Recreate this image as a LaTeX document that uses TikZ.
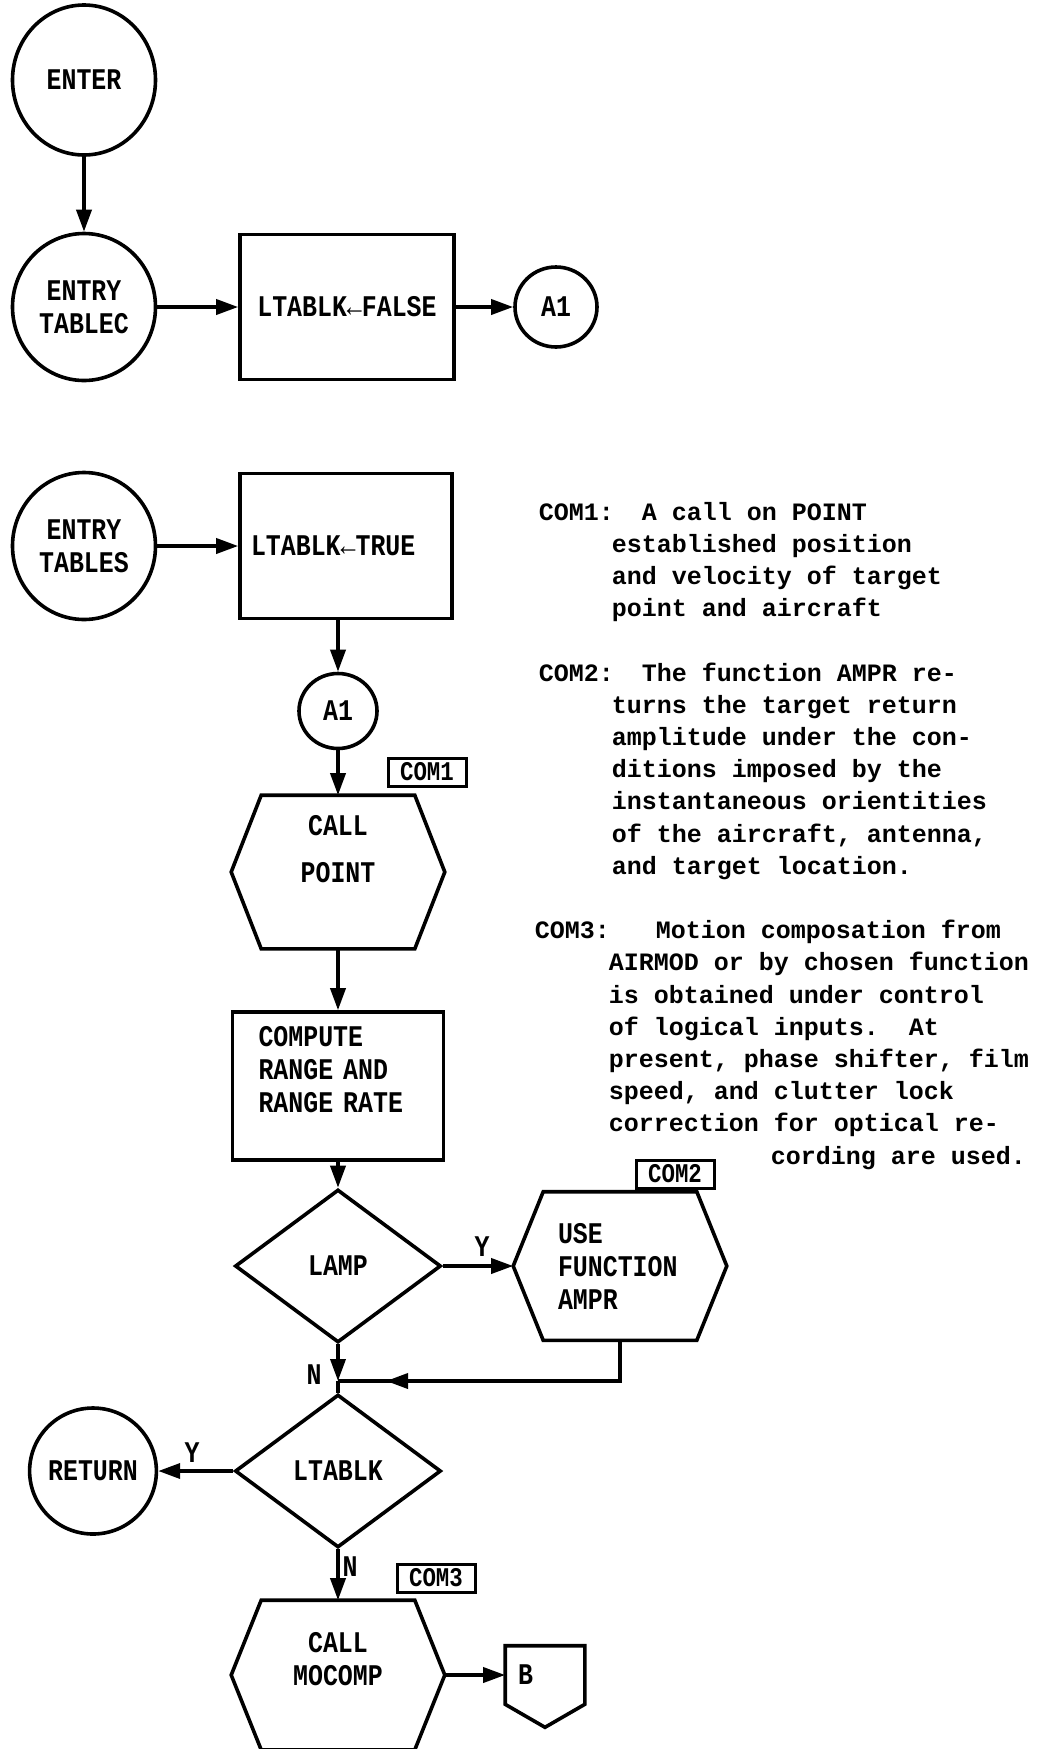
\documentclass[tikz,border=0pt]{standalone}
\usepackage{fontspec}
\newfontfamily\tw{Liberation Mono}
\newfontfamily\twc[FakeStretch=0.83]{Liberation Mono}
\usetikzlibrary{arrows.meta,shapes.geometric,calc}
\frenchspacing
\newcommand\hexpath[1]{\draw ([xshift=30pt]#1.north west) -- ([xshift=-30pt]#1.north east) -- (#1.east) -- ([xshift=-30pt]#1.south east) -- ([xshift=30pt]#1.south west) -- (#1.west) -- cycle;}
\begin{document}
\begin{tikzpicture}[x=1pt,y=-1pt,
  line width=3.6pt,
  every node/.style={font=\twc\bfseries\fontsize{30}{33}\selectfont},
  arr/.style={-{Triangle[length=22pt,width=15pt]}},
  circ/.style={draw,ellipse,minimum width=143pt,minimum height=150pt,inner sep=0pt,align=center},
  pbox/.style={draw,rectangle,minimum width=212pt,minimum height=145pt,inner sep=0pt},
  hexa/.style={draw=none,rectangle,minimum width=210pt,minimum height=150pt,inner sep=0pt,align=center},
  dia/.style={draw,diamond,minimum width=206pt,minimum height=153pt,inner sep=0pt},
  tag/.style={draw,line width=3pt,inner sep=1pt,minimum width=78pt,minimum height=28pt,font=\twc\bfseries\fontsize{27}{28}\selectfont},
  com/.style={anchor=base west,inner sep=0pt,font=\tw\bfseries\fontsize{25}{32}\selectfont},
  lab/.style={inner sep=0pt}
]
\useasboundingbox (0,0) rectangle (1047,1749);

% top part
\node[circ] (enter) at (84,80) {ENTER};
\node[circ,minimum height=147pt] (tabc) at (84,307) {ENTRY\\TABLEC};
\node[pbox,minimum width=214pt] (fbox) at (347,307) {LTABLK←FALSE};
\node[circ,minimum width=82pt,minimum height=80pt] (a1a) at (556,307) {A1};

\node[circ,minimum height=147pt] (tabs) at (84,546) {ENTRY\\TABLES};
\node[pbox,text width=190pt,align=left] (tbox) at (346,546) {LTABLK←TRUE};
\node[circ,minimum width=78pt,minimum height=75pt] (a1b) at (338,711) {A1};
\node[tag] (c1) at (427,772) {COM1};
\node[hexa] (cp) at (338,872) {CALL\\[14pt]POINT\\[14pt]\mbox{}};
\hexpath{cp}
\node[pbox,minimum width=211pt,minimum height=148pt,text width=159pt,align=left] (comp) at (338,1086) {COMPUTE\\RANGE AND\\RANGE RATE\\\mbox{}};
\node[dia] (lamp) at (338,1266) {LAMP};
\node[lab] at (482,1247) {Y};
\node[hexa,minimum height=145pt,text width=124pt,align=left] (uf) at (620,1266) {USE\\FUNCTION\\AMPR};
\hexpath{uf}
\node[tag] (c2) at (675,1174) {COM2};
\coordinate (jn) at (338,1381);
\coordinate (jnr) at (386,1381);
\node[lab] at (314,1375) {N};
\node[dia] (ltb) at (338,1471) {LTABLK};
\node[circ,minimum width=120pt,minimum height=126pt] (ret) at (93,1471) {RETURN};
\node[lab] at (192,1453) {Y};
\node[lab] at (350,1567) {N};
\node[tag] (c3) at (436,1578) {COM3};
\node[hexa,minimum height=146pt] (mc) at (338,1675) {CALL\\MOCOMP\\\mbox{}};
\hexpath{mc}
\node[draw=none,minimum width=76pt,minimum height=55pt,text width=54pt,align=left,inner sep=0pt] (bb) at (545,1675) {B};
\draw (bb.north west) -- (bb.north east) -- (bb.south east) -- ([yshift=-23pt]bb.south) -- (bb.south west) -- cycle;

% connectors
\draw[arr] (enter) -- (tabc);
\draw[arr] (tabc) -- (fbox);
\draw[arr] (fbox) -- (a1a);
\draw[arr] (tabs) -- (tbox);
\draw[arr] (tbox.south -| a1b.north) -- (a1b);
\draw[arr] (a1b) -- (cp.north);
\draw[arr] (cp.south) -- (comp);
\draw[arr] (comp) -- (lamp);
\draw[arr] (lamp) -- (uf.west);
\draw[arr] (lamp.south) -- (jn);
\draw (jn) -- (ltb.north);
\draw (uf.south) |- (jn);
\draw[arr] (uf.south |- jn) -- (jnr);
\draw[arr] (ltb) -- (ret);
\draw[arr] (ltb) -- (mc.north);
\draw[arr] (mc.east) -- (bb.west);

% comments
\node[com] at (537,520) {COM1:};
\node[com] at (640,520) {A call on POINT};
\node[com] at (610,552.2) {established position};
\node[com] at (610,584.4) {and velocity of target};
\node[com] at (610,616.6) {point and aircraft};

\node[com] at (537,681) {COM2:};
\node[com] at (640,681) {The function AMPR re-};
\node[com] at (610,713.2) {turns the target return};
\node[com] at (610,745.4) {amplitude under the con-};
\node[com] at (610,777.6) {ditions imposed by the};
\node[com] at (610,809.8) {instantaneous orientities};
\node[com] at (610,842) {of the aircraft, antenna,};
\node[com] at (610,874.2) {and target location.};

\node[com] at (533,938.6) {COM3:};
\node[com] at (654,938.6) {Motion composation from};
\node[com] at (607,970.8) {AIRMOD or by chosen function};
\node[com] at (607,1003) {is obtained under control};
\node[com] at (607,1035.2) {of logical inputs.\ \ At};
\node[com] at (607,1067.4) {present, phase shifter, film};
\node[com] at (607,1099.6) {speed, and clutter lock};
\node[com] at (607,1131.8) {correction for optical re-};
\node[com] at (769,1164) {cording are used.};
\end{tikzpicture}
\end{document}
